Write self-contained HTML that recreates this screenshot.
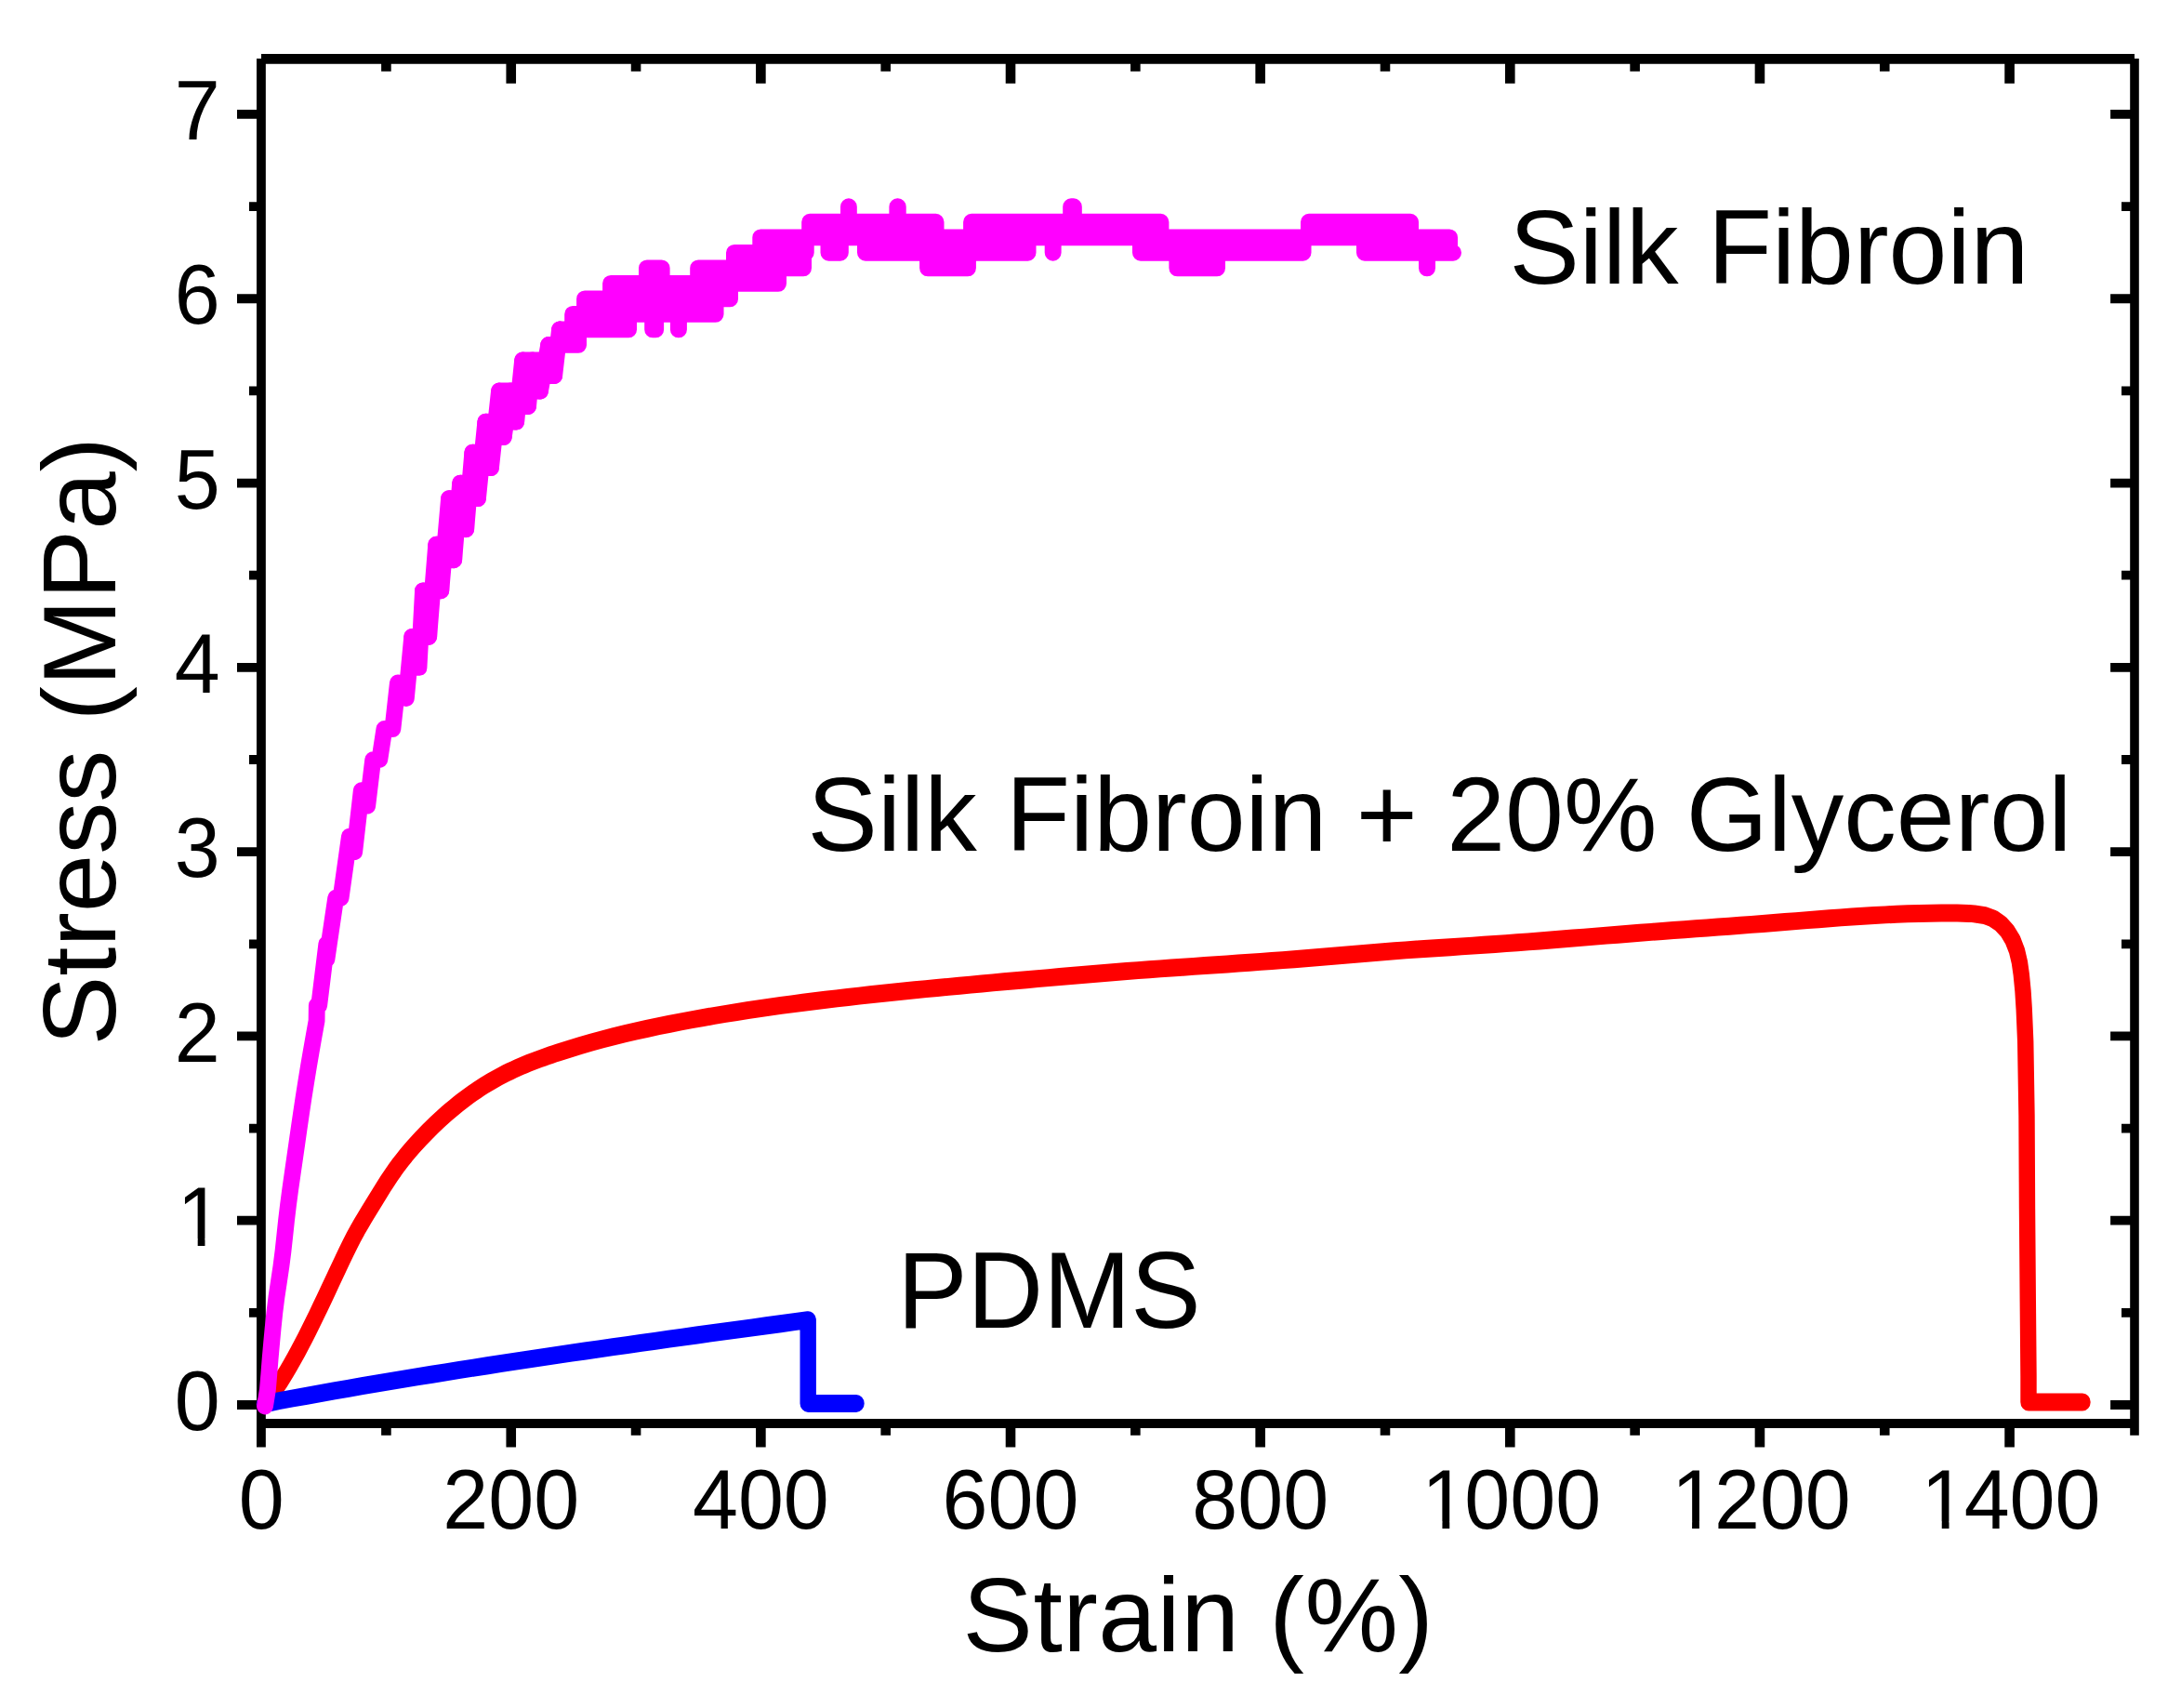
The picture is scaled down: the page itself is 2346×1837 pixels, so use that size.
<!DOCTYPE html>
<html lang="en">
<head>
<meta charset="utf-8">
<title>Stress-strain curves</title>
<style>
html,body{margin:0;padding:0;background:#fff;}
body{width:2346px;height:1837px;overflow:hidden;}
svg{display:block;}
text{font-family:"Liberation Sans",sans-serif;fill:#000;}
</style>
</head>
<body>
<svg width="2346" height="1837" viewBox="0 0 2346 1837">
<rect width="2346" height="1837" fill="#fff"/>
<g id="axes">
<path d="M276 63H285.85V1556.6H276ZM281 58H2296V68.8H281ZM2291.2 63H2300.8V1543.8H2291.2ZM281 1526.1H2296V1535.9H281ZM410.12 1535H420.72V1543.8H410.12ZM410.12 68H420.72V76.8H410.12ZM544.44 1535H555.04V1556.6H544.44ZM544.44 68H555.04V89.7H544.44ZM678.76 1535H689.36V1543.8H678.76ZM678.76 68H689.36V76.8H678.76ZM813.08 1535H823.68V1556.6H813.08ZM813.08 68H823.68V89.7H813.08ZM947.4 1535H958V1543.8H947.4ZM947.4 68H958V76.8H947.4ZM1081.72 1535H1092.32V1556.6H1081.72ZM1081.72 68H1092.32V89.7H1081.72ZM1216.04 1535H1226.64V1543.8H1216.04ZM1216.04 68H1226.64V76.8H1216.04ZM1350.36 1535H1360.96V1556.6H1350.36ZM1350.36 68H1360.96V89.7H1350.36ZM1484.68 1535H1495.28V1543.8H1484.68ZM1484.68 68H1495.28V76.8H1484.68ZM1619 1535H1629.6V1556.6H1619ZM1619 68H1629.6V89.7H1619ZM1753.32 1535H1763.92V1543.8H1753.32ZM1753.32 68H1763.92V76.8H1753.32ZM1887.64 1535H1898.24V1556.6H1887.64ZM1887.64 68H1898.24V89.7H1887.64ZM2021.96 1535H2032.56V1543.8H2021.96ZM2021.96 68H2032.56V76.8H2021.96ZM2156.28 1535H2166.88V1556.6H2156.28ZM2156.28 68H2166.88V89.7H2156.28ZM255 1506.1H277V1515.9H255ZM2270.1 1506.1H2292V1515.9H2270.1ZM268 1406.95H277V1416.76H268ZM2282 1406.95H2292V1416.76H2282ZM255 1307.81H277V1317.61H255ZM2270.1 1307.81H2292V1317.61H2270.1ZM268 1208.66H277V1218.47H268ZM2282 1208.66H2292V1218.47H2282ZM255 1109.52H277V1119.32H255ZM2270.1 1109.52H2292V1119.32H2270.1ZM268 1010.38H277V1020.18H268ZM2282 1010.38H2292V1020.18H2282ZM255 911.23H277V921.03H255ZM2270.1 911.23H2292V921.03H2270.1ZM268 812.09H277V821.88H268ZM2282 812.09H2292V821.88H2282ZM255 712.94H277V722.74H255ZM2270.1 712.94H2292V722.74H2270.1ZM268 613.8H277V623.6H268ZM2282 613.8H2292V623.6H2282ZM255 514.65H277V524.45H255ZM2270.1 514.65H2292V524.45H2270.1ZM268 415.5H277V425.3H268ZM2282 415.5H2292V425.3H2282ZM255 316.36H277V326.16H255ZM2270.1 316.36H2292V326.16H2270.1ZM268 217.22H277V227.02H268ZM2282 217.22H2292V227.02H2282ZM255 118.07H277V127.87H255ZM2270.1 118.07H2292V127.87H2270.1Z" fill="#000"/>
</g>
<g id="curves">
<g transform="scale(1 1.09)"><polyline fill="none" stroke="#f00" stroke-width="17.4" stroke-linejoin="round" stroke-linecap="round" points="284.5,1385.32 288.5,1380.64 292.5,1375.7 296.5,1370.46 300.5,1364.93 304.5,1359.13 308.5,1353.08 312.5,1346.79 316.5,1340.27 320.5,1333.54 324.5,1326.63 328.5,1319.53 332.5,1312.27 336.5,1304.87 340.5,1297.34 344.5,1289.69 348.5,1281.95 352.5,1274.14 356.5,1266.3 360.5,1258.46 364.5,1250.64 368.5,1242.88 372.5,1235.22 376.5,1227.75 380.5,1220.58 384.5,1213.83 388.5,1207.44 392.5,1201.3 396.5,1195.26 400.5,1189.22 404.5,1183.19 408.5,1177.22 412.5,1171.34 416.5,1165.61 420.5,1160.07 424.5,1154.76 428.5,1149.72 432.5,1144.92 436.5,1140.33 440.5,1135.95 444.5,1131.73 448.5,1127.65 452.5,1123.69 456.5,1119.84 460.5,1116.08 464.5,1112.43 468.5,1108.88 472.5,1105.42 476.5,1102.06 480.5,1098.8 484.5,1095.64 488.5,1092.56 492.5,1089.59 496.5,1086.7 500.5,1083.91 504.5,1081.2 508.5,1078.59 512.5,1076.06 516.5,1073.62 520.5,1071.27 524.5,1069 528.5,1066.82 532.5,1064.72 536.5,1062.7 540.5,1060.76 544.5,1058.89 548.5,1057.09 552.5,1055.36 556.5,1053.7 560.5,1052.09 564.5,1050.54 568.5,1049.04 572.5,1047.59 576.5,1046.19 580.5,1044.82 584.5,1043.5 588.5,1042.2 592.5,1040.94 596.5,1039.7 600,1038.64 612,1035.12 624,1031.78 636,1028.61 648,1025.6 660,1022.75 672,1020.04 684,1017.46 696,1015 708,1012.66 720,1010.42 732,1008.27 744,1006.2 756,1004.22 768,1002.3 780,1000.46 792,998.68 804,996.96 816,995.31 828,993.71 840,992.17 852,990.68 864,989.24 876,987.85 888,986.49 900,985.18 912,983.9 924,982.66 936,981.45 948,980.27 960,979.12 972,978 984,976.89 996,975.81 1008,974.75 1020,973.7 1032,972.67 1044,971.65 1056,970.63 1068,969.63 1080,968.64 1092,967.66 1104,966.68 1116,965.71 1128,964.76 1140,963.81 1152,962.86 1164,961.93 1176,961.01 1188,960.1 1200,959.21 1212,958.33 1224,957.48 1236,956.66 1248,955.85 1260,955.07 1272,954.3 1284,953.55 1296,952.8 1308,952.05 1320,951.3 1332,950.54 1344,949.78 1356,948.99 1368,948.19 1380,947.37 1392,946.52 1404,945.64 1416,944.73 1428,943.8 1440,942.87 1452,941.93 1464,941 1476,940.08 1488,939.19 1500,938.33 1512,937.52 1524,936.74 1536,935.99 1548,935.26 1560,934.55 1572,933.84 1584,933.12 1596,932.4 1608,931.65 1620,930.87 1632,930.06 1644,929.23 1656,928.39 1668,927.52 1680,926.64 1692,925.76 1704,924.87 1716,923.97 1728,923.08 1740,922.19 1752,921.31 1764,920.45 1776,919.6 1788,918.76 1800,917.94 1812,917.13 1824,916.33 1836,915.53 1848,914.73 1860,913.92 1872,913.11 1884,912.28 1896,911.44 1908,910.58 1920,909.7 1932,908.82 1944,907.95 1956,907.08 1968,906.24 1980,905.42 1992,904.65 2004,903.92 2016,903.26 2028,902.65 2040,902.13 2052,901.69 2064,901.34 2076,901.09 2088,900.96 2100,900.95 2105.3,900.98 2118,901.28 2123.6,901.74 2135,903.3 2143.8,906.33 2152,911.47 2159.2,918.72 2165,927.52 2169.5,938.26 2172.4,949.54 2174.3,961.83 2176,977.98 2177.2,995.41 2178.7,1027.52 2180,1100.92 2180.5,1192.66 2181.3,1284.4 2182,1357.8 2182,1383.49 2240,1383.49"/></g>
<g transform="scale(1 1.09)"><polyline fill="none" stroke="#00f" stroke-width="17.4" stroke-linejoin="round" stroke-linecap="round" points="284.5,1385.32 299.5,1382.36 314.5,1379.83 329.5,1377.33 344.5,1374.86 359.5,1372.43 374.5,1370.02 389.5,1367.65 404.5,1365.3 419.5,1362.99 434.5,1360.7 449.5,1358.43 464.5,1356.19 479.5,1353.98 494.5,1351.79 509.5,1349.62 524.5,1347.48 539.5,1345.36 554.5,1343.26 569.5,1341.17 584.5,1339.11 599.5,1337.07 614.5,1335.04 629.5,1333.03 644.5,1331.04 659.5,1329.06 674.5,1327.09 689.5,1325.14 704.5,1323.2 719.5,1321.27 734.5,1319.35 749.5,1317.45 764.5,1315.55 779.5,1313.66 794.5,1311.78 809.5,1309.91 824.5,1308.04 839.5,1306.17 854.5,1304.32 869.2,1302.48 869.2,1384.77 921,1384.77"/></g>
<polyline fill="none" stroke="#f0f" stroke-width="17.8" stroke-linejoin="round" stroke-linecap="round" points="285,1512.5 287.92,1494.48 289.31,1477.95 290.61,1461.43 292.09,1444.91 293.62,1428.39 295.33,1411.87 297.4,1395.34 299.89,1378.82 302.37,1362.3 304.47,1345.78 306.27,1329.25 308.02,1312.73 309.98,1296.21 312.18,1279.68 314.52,1263.16 316.92,1246.64 319.29,1230.12 321.66,1213.6 324.07,1197.07 326.55,1180.55 329.15,1164.03 331.86,1147.51 334.68,1130.98 337.58,1114.46 340.58,1097.94 340.8,1081.41 343.2,1081.41 351.3,1015.33 351.4,1031.85 361.2,965.76 366.6,965.76 375.9,899.67 381.2,916.19 388.8,850.1 395.2,866.62 401.2,817.05 408.3,817.05 413.4,784.01 422.4,784.01 427.9,734.44 436.9,750.96 443.2,684.88 450.5,717.92 455,635.31 461.2,684.88 469.2,585.74 474.3,635.31 483,536.17 488.2,602.26 495.1,519.65 501.2,569.22 508.3,486.61 514,536.17 522.3,453.56 528,503.13 537,420.51 541.8,470.08 549,420.51 555.2,453.56 562.1,387.47 568.1,437.04 572.7,387.47 581,420.51 590.2,370.95 596.2,403.99 602,354.42"/>
<polyline fill="none" stroke="#f0f" stroke-width="17.8" stroke-linejoin="round" stroke-linecap="round" points="443.2,684.88 455,684.88 455,635.31 469.2,635.31 469.2,585.74 483,585.74 483,536.17 495.1,536.17 495.1,519.65 508.3,519.65 508.3,486.61 522.3,486.61 522.3,453.56 537,453.56 537,420.51 549,420.51 549,420.51 562.1,420.51 562.1,387.47 572.7,387.47 572.7,387.47 590.2,387.47 590.2,370.95 602,370.95 602,354.42"/>
<polyline fill="none" stroke="#f0f" stroke-width="17.8" stroke-linejoin="round" stroke-linecap="round" points="461.2,684.88 461.2,635.31 474.3,635.31 474.3,602.26 488.2,602.26 488.2,569.22 501.2,569.22 501.2,536.17 514,536.17 514,503.13 528,503.13 528,470.08 541.8,470.08 541.8,453.56 555.2,453.56 555.2,437.04 568.1,437.04 568.1,420.51 581,420.51 581,403.99 596.2,403.99"/>
<path d="M590.4 403.99H596.11M590.4 387.47H596.11M590.4 370.95H622.11M602.1 354.42H676.11M702.1 354.42H705.21M729.8 354.42H730.01M616.1 337.9H769.61M629 321.38H785.11M657 304.86H837.11M695.9 288.34H711.71M751.1 288.34H864.11M998 288.34H1041.01M1266.3 288.34H1309.11M1534.9 288.34H1535.11M789.9 271.81H866.81M891.4 271.81H903.91M930.9 271.81H1105.61M1132.6 271.81H1132.71M1226.9 271.81H1401.61M1467.9 271.81H1563.11M818.2 255.29H1559.11M871.1 238.77H1006.61M1045 238.77H1248.51M1407.9 238.77H1517.11M912.9 222.24H912.91M965.3 222.24H965.81M1152.1 222.24H1154.91M590.4 403.99H596.11V387.47H590.4ZM590.4 387.47H596.11V370.95H590.4ZM602.1 370.95H622.11V354.42H602.1ZM616.1 354.42H676.11V337.9H616.1ZM702.1 354.42H705.21V337.9H702.1ZM729.8 354.42H730.01V337.9H729.8ZM629 337.9H769.61V321.38H629ZM657 321.38H785.11V304.86H657ZM695.9 304.86H711.71V288.34H695.9ZM751.1 304.86H837.11V288.34H751.1ZM789.9 288.34H864.11V271.81H789.9ZM998 288.34H1041.01V271.81H998ZM1266.3 288.34H1309.11V271.81H1266.3ZM1534.9 288.34H1535.11V271.81H1534.9ZM818.2 271.81H866.81V255.29H818.2ZM891.4 271.81H903.91V255.29H891.4ZM930.9 271.81H1105.61V255.29H930.9ZM1132.6 271.81H1132.71V255.29H1132.6ZM1226.9 271.81H1401.61V255.29H1226.9ZM1467.9 271.81H1559.11V255.29H1467.9ZM871.1 255.29H1006.61V238.77H871.1ZM1045 255.29H1248.51V238.77H1045ZM1407.9 255.29H1517.11V238.77H1407.9ZM912.9 238.77H912.91V222.24H912.9ZM965.3 238.77H965.81V222.24H965.3ZM1152.1 238.77H1154.91V222.24H1152.1Z" fill="#f0f" stroke="#f0f" stroke-width="17.8" stroke-linejoin="round" stroke-linecap="round"/>
</g>
<g id="labels">
<text transform="translate(281.1 1643.8) scale(1 1.024)" font-size="88" text-anchor="middle">0</text>
<text transform="translate(549.74 1643.8) scale(1 1.024)" font-size="88" text-anchor="middle">200</text>
<text transform="translate(818.38 1643.8) scale(1 1.024)" font-size="88" text-anchor="middle">400</text>
<text transform="translate(1087.02 1643.8) scale(1 1.024)" font-size="88" text-anchor="middle">600</text>
<text transform="translate(1355.66 1643.8) scale(1 1.024)" font-size="88" text-anchor="middle">800</text>
<text transform="translate(1529.32 1643.8) scale(1 1.024)" font-size="88">1<tspan dx="-2.9">000</tspan></text>
<text transform="translate(1797.96 1643.8) scale(1 1.024)" font-size="88">1<tspan dx="-2.9">200</tspan></text>
<text transform="translate(2066.6 1643.8) scale(1 1.024)" font-size="88">1<tspan dx="-2.9">400</tspan></text>
<text transform="translate(236.6 1538.2) scale(1 1.024)" font-size="88" text-anchor="end">0</text>
<text transform="translate(239.5 1339.91) scale(1 1.024)" font-size="88" text-anchor="end">1</text>
<text transform="translate(236.6 1141.62) scale(1 1.024)" font-size="88" text-anchor="end">2</text>
<text transform="translate(236.6 943.33) scale(1 1.024)" font-size="88" text-anchor="end">3</text>
<text transform="translate(236.6 745.04) scale(1 1.024)" font-size="88" text-anchor="end">4</text>
<text transform="translate(236.6 546.75) scale(1 1.024)" font-size="88" text-anchor="end">5</text>
<text transform="translate(236.6 348.46) scale(1 1.024)" font-size="88" text-anchor="end">6</text>
<text transform="translate(236.6 150.17) scale(1 1.024)" font-size="88" text-anchor="end">7</text>
<text x="1289" y="1776.1" font-size="113" letter-spacing="0.45" text-anchor="middle">Strain (%)</text>
<text transform="translate(124.1 797.3) rotate(-90)" font-size="112.2" text-anchor="middle">Stress (MPa)</text>
<text x="1623.5" y="305" font-size="113">Silk Fibroin</text>
<text x="868.6" y="914.6" font-size="113">Silk Fibroin + 20% Glycerol</text>
<text transform="translate(965.2 1427.7) scale(1 1.035)" font-size="113">PDMS</text>
<path d="M1534.82 1636.47H1551.45V1645.3H1534.82ZM1559.22 1636.47H1575.16V1645.3H1559.22ZM1803.46 1636.47H1820.09V1645.3H1803.46ZM1827.86 1636.47H1843.8V1645.3H1827.86ZM2072.1 1636.47H2088.73V1645.3H2072.1ZM2096.5 1636.47H2112.44V1645.3H2096.5ZM196.06 1332.58H212.69V1341.41H196.06ZM220.46 1332.58H236.4V1341.41H220.46Z" fill="#fff"/>
</g>
</svg>
</body>
</html>
